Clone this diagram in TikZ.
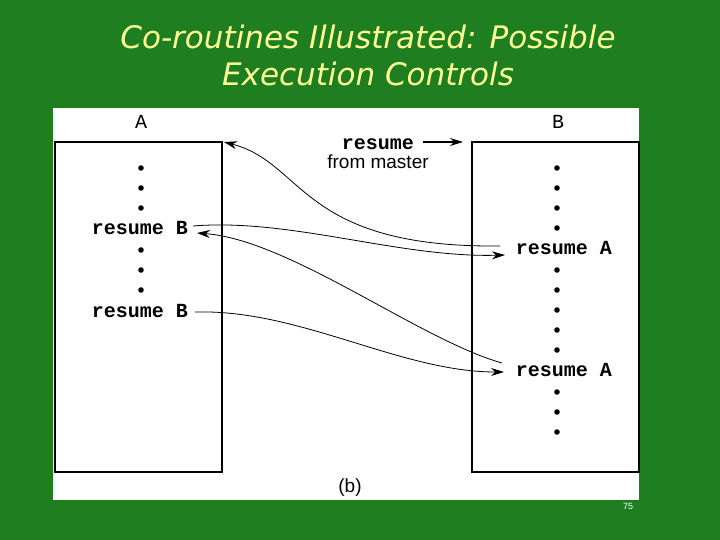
\documentclass[tikz,border=0pt]{standalone}
\usepackage{fontspec}
\setmainfont{Liberation Sans}
\newfontfamily\monof{Liberation Mono}
\newfontfamily\titlef{DejaVu Sans}
\usetikzlibrary{arrows.meta}
\definecolor{bggreen}{RGB}{30,126,32}
\definecolor{titleyellow}{RGB}{255,255,150}
\begin{document}
\begin{tikzpicture}[x=1pt,y=-1pt,
  box/.style={draw, line width=1.6pt, inner sep=0pt, minimum width=167pt, minimum height=330pt, anchor=north west},
  lbl/.style={font=\monof\fontsize{20}{22}\selectfont, inner sep=0pt},
  code/.style={font=\monof\bfseries\fontsize{20}{22}\selectfont, inner sep=0pt},
  sanslbl/.style={font=\fontsize{19}{22}\selectfont, inner sep=0pt},
  titletext/.style={font=\titlef\itshape\fontsize{31}{34}\selectfont, text=titleyellow, anchor=base, inner sep=0pt},
  link/.style={line width=0.8pt, -{Stealth[length=13pt,width=8pt]}},
  dotmark/.style={fill=black}]
\fill[bggreen] (0,0) rectangle (720,540);
\useasboundingbox (0,0) rectangle (720,540);
% title
\node[titletext] (t1) at (368,49) {Co-routines Illustrated: Possible};
\node[titletext] (t2) at (368,86) {Execution Controls};
% panel
\fill[white] (53,108) rectangle (639,500);
% boxes
\node[box] (boxA) at (54,141) {};
\node[box] (boxB) at (471,141) {};
\node[lbl] (labA) at (141,122) {A};
\node[lbl] (labB) at (558,122) {B};
% dots in A
\foreach \y in {168,188,208,250,270,290}
  \fill[dotmark] (141,\y) circle (2.8pt);
% dots in B
\foreach \y in {168,188,208,228,270,290,310,330,350,392,412,432}
  \fill[dotmark] (557,\y) circle (2.8pt);
% code lines
\node[code] (rB1) at (140,228) {resume B};
\node[code] (rB2) at (140,311) {resume B};
\node[code] (rA1) at (564,248) {resume A};
\node[code] (rA2) at (564,370) {resume A};
% resume from master
\node[code] (rtop) at (378,144) {resume};
\node[sanslbl] (fm) at (378,162) {from master};
\coordinate (topS) at (423,142);
\coordinate (topE) at (463,142);
\draw[line width=1.4pt, -{Stealth[length=13pt,width=8pt]}] (topS) -- (topE);
% connector end points
\coordinate (c1s) at (500,246);
\coordinate (c1e) at (224,142);
\coordinate (c2s) at (193,226);
\coordinate (c2e) at (505,255);
\coordinate (c3s) at (502,363);
\coordinate (c3e) at (197,233);
\coordinate (c4s) at (195,312);
\coordinate (c4e) at (504,372);
% connectors
\draw[link] (c1s) .. controls (300,248) and (305,163) .. (c1e);
\draw[link] (c2s) .. controls (290,218) and (400,258) .. (c2e);
\draw[link] (c3s) .. controls (420,340) and (290,240) .. (c3e);
\draw[link] (c4s) .. controls (300,309) and (400,372) .. (c4e);
% caption
\node[sanslbl] (cap) at (350,488) {(b)};
\node[font=\fontsize{9}{11}\selectfont, text=white, inner sep=0pt] (pg) at (628,506) {75};
\end{tikzpicture}
\end{document}
